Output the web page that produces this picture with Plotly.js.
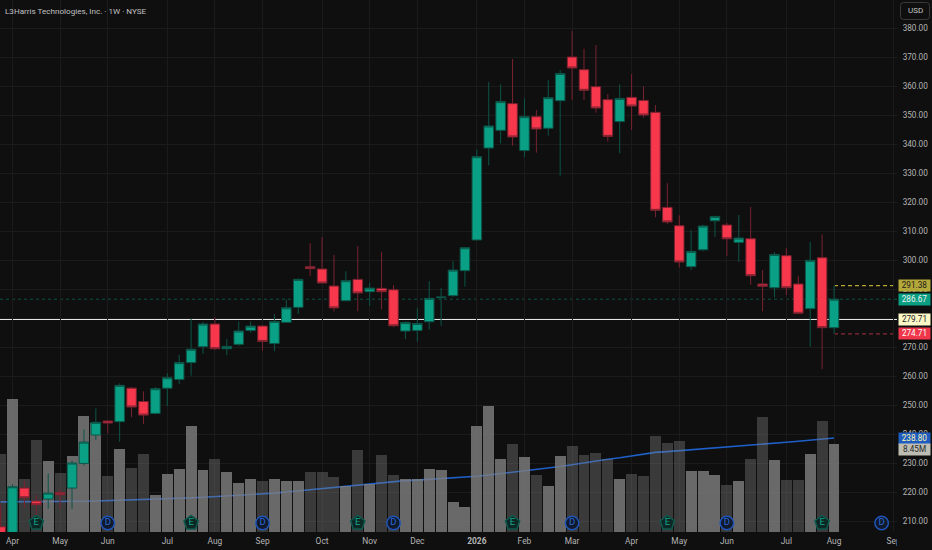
<!DOCTYPE html>
<html><head><meta charset="utf-8">
<script src="https://cdn.plot.ly/plotly-3.0.1.min.js"></script>
<style>html,body{margin:0;padding:0;background:#0f0f0f}#c{width:932px;height:550px}</style>
</head><body><div id="c"></div>
<script>
const opens  = [208.2,205,221.55,217.07,217.76,220.06,221.55,230.06,239.83,244.66,244.43,256.0,251.4,247.3,256.0,259.0,264.8,270.3,278.1,269.6,271.1,275.9,277.4,271.4,278.7,283.85,297.87,297.07,291.2,286.15,293.5,289.25,290.4,289.9,275.7,275.9,278.9,287.2,287.9,296.5,307.1,338.8,344.9,354.1,337.9,349.6,345.6,355.1,370.17,365.8,359.94,355.46,347.9,356.26,355.2,351.1,318.33,312,297.87,303.7,313.7,312.24,306.26,307.5,291.9,290.6,301.66,291.9,283.4,300.97,276.84];
const highs  = [215.7,222.9,224.08,219.1,226.6,221.1,231,241.8,249.0,244.8,257.65,256.4,254.9,256.4,261.2,267.5,279.95,278.8,280.4,272.9,279,279,277.8,281.55,286.6,293.85,306.0,308.1,301.9,296.3,305,292.35,302.9,291.55,279,283.6,292.9,290.5,299.8,304.6,338.3,361.55,360.75,369.48,355.9,351.9,362.2,365.7,379.13,373.04,374.3,357.4,360.75,364.3,360.05,353.6,326.7,315.6,310.5,312.35,315.46,313,315.7,318.45,296.7,302.9,304.3,294.65,306.4,309,291.38];
const lows   = [204,204,214.77,212.24,214.4,214.4,214.4,229.25,238.1,240.4,237.53,246.0,243.7,247,249.8,257.4,260.3,267.8,269.1,267.3,270.6,275.1,268.9,268.7,278.7,281.55,294.66,292.25,282.4,286.15,282.5,284.3,283.2,277,272.9,272.0,276.15,277.5,287.5,291.0,307.1,332.8,340.4,339.6,335.7,337.2,343.05,329.25,355.34,355.34,350.98,341.0,336.95,345.0,349.25,314.9,312.6,297.6,296.7,303.16,308.2,301.55,299.5,291.66,282.47,287.3,288.1,281.55,270.3,262.6,274.71];
const closes = [205,222.0,218.2,215.8,219.83,219.25,230.17,237.4,244.2,243.97,256.96,249.5,246.7,255.8,259.6,264.8,269.4,278.1,269.6,270.4,275.7,277.4,272.1,279,283.7,293.5,297.2,292.25,283.66,293.05,288.8,290.5,289.25,277.5,278.6,278.3,286.96,287.4,296.7,304.4,335.8,346.4,354.8,342.6,349.6,345.35,356.15,364.5,366.38,358.68,352.59,342.8,355.9,353.28,350.17,317.3,313.3,299.5,303.16,311.9,315.2,307.5,307.76,294.77,291.1,302.1,290.6,281.8,300.06,276.84,286.67];
const volumesM = [7.5,12.76,5.1,8.77,6.76,5.65,7.24,11.1,10.46,5.33,7.94,6.16,7.5,3.57,5.58,6.03,10.1,5.9,6.95,5.7,4.72,5.1,4.85,5.04,4.91,4.91,5.77,5.77,5.26,4.37,7.81,4.63,7.4,5.45,5.1,5.1,6.03,5.96,2.9,2.36,10.1,12.06,6.95,8.39,7.14,5.45,4.4,7.24,8.26,7.4,7.59,6.95,5.1,5.58,5.39,9.15,8.55,8.74,5.84,5.8,5.42,4.53,4.85,7.02,11.04,6.92,4.94,4.94,7.43,10.65,8.45];
const movingAvg = [216.8,216.8,216.8,216.85,216.85,216.9,216.95,217.0,217.1,217.2,217.3,217.4,217.5,217.6,217.75,217.95,218.15,218.4,218.6,218.8,219.0,219.2,219.45,219.8,220.2,220.6,221.0,221.45,221.85,222.25,222.65,223.05,223.45,223.85,224.1,224.3,224.55,224.9,224.95,225.15,225.6,226.05,226.5,227.0,227.5,228.0,228.4,229.0,229.6,230.3,231.0,231.5,232.0,232.6,233.3,233.85,234.1,234.4,234.8,235.1,235.45,235.85,236.1,236.4,236.7,237.0,237.35,237.7,238.0,238.4,238.8];
const weeks = opens.map((_, k) => k - 1);
const tickWeeks = [0,4,8,13,17,21,26,30,34,39,43,47,52,56,60,65,69,74];
const tickNames = ['Apr','May','Jun','Jul','Aug','Sep','Oct','Nov','Dec','<b>2026</b>','Feb','Mar','Apr','May','Jun','Jul','Aug','Sep'];
const priceTicks = [210,220,230,240,250,260,270,290,300,310,320,330,340,350,360,370,380];
const earningsWeeks = [2,15,29,42,55,68];
const dividendWeeks = [8,21,32,47,60,73];
const markerLevel = 209.5;
const lastPrice = 286.67, lastHigh = 291.38, lastLow = 274.71, whiteLevel = 279.71, maLast = 238.80, volLabelLevel = 234.8;
const lastWeek = 69;

const W = 897, H = 532;
const px = v => v / W, py = v => 1 - v / H;
const font = 'Roboto, Lato, sans-serif';

function roundRect(x0, y0, x1, y1, r) {
  const rx = r / W, ry = r / H, a = px(x0), b = px(x1), t = py(y0), u = py(y1);
  return `M${a + rx},${t} L${b - rx},${t} Q${b},${t} ${b},${t - ry} L${b},${u + ry} Q${b},${u} ${b - rx},${u} L${a + rx},${u} Q${a},${u} ${a},${u + ry} L${a},${t - ry} Q${a},${t} ${a + rx},${t} Z`;
}

const traces = [
  {type:'scatter', mode:'lines', x:weeks, y:movingAvg, yaxis:'y', line:{color:'#1f5fc8', width:1.6}, hoverinfo:'skip', zorder:0},
  {type:'bar', x:weeks, y:volumesM, yaxis:'y2', width:0.92,
   marker:{color:closes.map((c,k)=> c>=opens[k] ? 'rgba(128,128,128,0.8)' : 'rgba(128,128,128,0.38)'), line:{width:0}}, hoverinfo:'skip', zorder:1},
  {type:'candlestick', x:weeks, open:opens, high:highs, low:lows, close:closes, yaxis:'y', whiskerwidth:0,
   increasing:{line:{color:'#0c5548', width:1}, fillcolor:'#0aa085'},
   decreasing:{line:{color:'#7a2230', width:1}, fillcolor:'#f7374b'}, hoverinfo:'skip', zorder:2},
  {type:'scatter', mode:'markers+text', x:dividendWeeks, y:dividendWeeks.map(()=>markerLevel), yaxis:'y', text:dividendWeeks.map(()=>'D'),
   textposition:'middle center', textfont:{family:font, size:9.5, color:'#2a68d8'},
   marker:{symbol:'circle', size:13.5, color:'#101a2c', line:{color:'#1f55b8', width:1.5}}, hoverinfo:'skip', zorder:3},
  {type:'scatter', mode:'markers+text', x:earningsWeeks, y:earningsWeeks.map(()=>markerLevel), yaxis:'y', text:earningsWeeks.map(()=>'E'),
   textposition:'middle center', textfont:{family:font, size:9.5, color:'#12a58a'},
   marker:{symbol:'pentagon', size:15, color:'#0c2724', line:{color:'#0e5a4e', width:1.5}}, hoverinfo:'skip', zorder:3},
  {type:'scatter', mode:'lines', x:[weeks[0]], y:[movingAvg[0]], yaxis:'y3', hoverinfo:'skip', line:{width:0}, showlegend:false, zorder:-1}
];

function priceLabel(level, text, bg, fg) {
  return {xref:'paper', yref:'y', x:px(914.5), y:level, text, showarrow:false, xanchor:'center', yanchor:'middle',
    width:31, height:10.5, bgcolor:bg, borderpad:0, font:{family:font, size:8.2, color:fg}};
}

const layout = {
  width:932, height:550, showlegend:false,
  paper_bgcolor:'#0f0f0f', plot_bgcolor:'#0f0f0f',
  margin:{l:0, r:35, t:0, b:18, pad:0},
  boxgap:0.2, boxgroupgap:0, boxmode:'overlay', bargap:0,
  xaxis:{range:[-1.05,74.29], tickmode:'array', tickvals:tickWeeks, ticktext:tickNames, showgrid:true, gridcolor:'#1b1b1b', gridwidth:1,
    zeroline:false, showline:false, ticks:'outside', ticklen:1, tickcolor:'rgba(0,0,0,0)', rangeslider:{visible:false},
    tickfont:{family:font, size:8.4, color:'#b4b4b4'}, fixedrange:true},
  yaxis:{range:[206.4,389.83], side:'right', tickmode:'array', tickvals:priceTicks, tickformat:'.2f', showgrid:false,
    zeroline:false, showline:false, ticks:'outside', ticklen:3, tickcolor:'rgba(0,0,0,0)',
    tickfont:{family:font, size:8.2, color:'#b4b4b4'}, fixedrange:true},
  yaxis3:{overlaying:'y', matches:'y', range:[206.4,389.83], dtick:10, tick0:210, showgrid:true, gridcolor:'#1b1b1b', gridwidth:1, showticklabels:false, ticks:'', zeroline:false, fixedrange:true},
  yaxis2:{overlaying:'y', side:'right', range:[0,50.9], visible:false, fixedrange:true},
  shapes:[
    {type:'line', xref:'paper', yref:'y', x0:0, x1:1, y0:lastPrice, y1:lastPrice, layer:'below', line:{color:'#0c5548', width:1, dash:'dot'}},
    {type:'line', xref:'paper', yref:'y', x0:0, x1:1, y0:whiteLevel, y1:whiteLevel, layer:'below', line:{color:'#e6e6e6', width:1.2}},
    {type:'line', xref:'x', yref:'y', x0:lastWeek, x1:74.29, y0:lastHigh, y1:lastHigh, layer:'below', line:{color:'#b5a830', width:1.2, dash:'4px,3px'}},
    {type:'line', xref:'x', yref:'y', x0:lastWeek, x1:74.29, y0:lastLow, y1:lastLow, layer:'below', line:{color:'#8a2a36', width:1.2, dash:'4px,3px'}},
    {type:'rect', xref:'paper', yref:'paper', x0:1, x1:1.04, y0:py(550), y1:py(532), line:{width:0}, fillcolor:'#0f0f0f', layer:'above'},
    {type:'path', xref:'paper', yref:'paper', path:roundRect(900.5,2.5,929.5,19.5,3), line:{color:'#3a3a3a', width:1}, fillcolor:'rgba(0,0,0,0)', layer:'above'}
  ],
  annotations:[
    {xref:'paper', yref:'paper', x:px(3), y:py(11), xanchor:'left', yanchor:'middle', showarrow:false, text:'L3Harris Technologies, Inc. · 1W · NYSE', font:{family:font, size:8.1, color:'#c0c0c0'}},
    {xref:'paper', yref:'paper', x:px(915), y:py(11), xanchor:'center', yanchor:'middle', showarrow:false, text:'USD', font:{family:font, size:8, color:'#c4c4c4'}},
    priceLabel(lastHigh, lastHigh.toFixed(2), '#b5a83a', '#1a1a1a'),
    priceLabel(lastPrice, lastPrice.toFixed(2), '#0a9f82', '#f2f2f2'),
    priceLabel(whiteLevel, whiteLevel.toFixed(2), '#fdf8c8', '#222222'),
    priceLabel(lastLow, lastLow.toFixed(2), '#f0364a', '#ffffff'),
    priceLabel(maLast, maLast.toFixed(2), '#1f5cc0', '#fdf6b0'),
    priceLabel(volLabelLevel, volumesM[volumesM.length-1].toFixed(2)+'M', '#bdbdb4', '#2a2a2a')
  ]
};
Plotly.newPlot('c', traces, layout, {displayModeBar:false, staticPlot:true});
</script></body></html>
